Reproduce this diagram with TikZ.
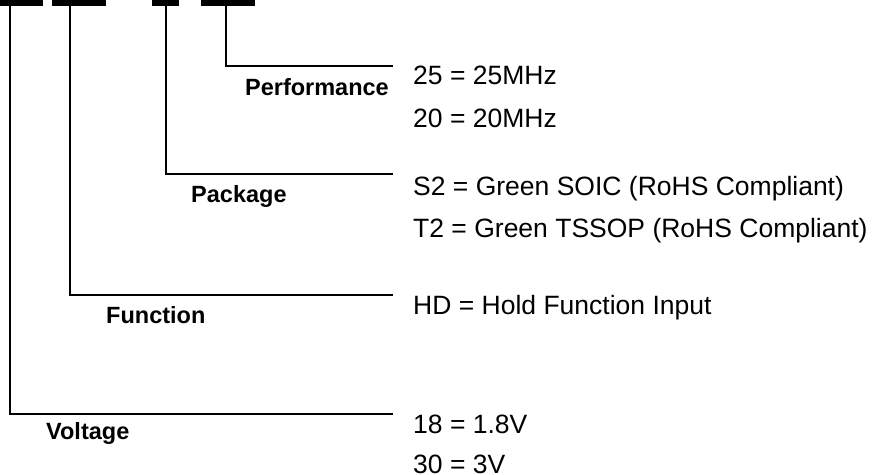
\documentclass[tikz,border=0pt]{standalone}
\usepackage{fontspec}
\setmainfont{Liberation Sans}
\begin{document}
\begin{tikzpicture}[x=1pt,y=-1pt,
  bar/.style={fill=black,draw=none,inner sep=0pt,minimum height=6pt,outer sep=0pt},
  conn/.style={line width=2.2pt},
  opt/.style={anchor=base west,inner sep=0pt,font=\fontsize{26.5}{31}\selectfont},
  lbl/.style={anchor=base west,inner sep=0pt,font=\fontsize{23.5}{28}\selectfont\bfseries}]
\useasboundingbox (0,0) rectangle (877,474);
% top bars
\node[bar,minimum width=43pt] (b1) at (21.5,3) {};
\node[bar,minimum width=54pt] (b2) at (79,3) {};
\node[bar,minimum width=27pt] (b3) at (165.5,3) {};
\node[bar,minimum width=54pt] (b4) at (228,3) {};
% line ends
\coordinate (e1) at (393,414);
\coordinate (e2) at (393,295);
\coordinate (e3) at (393,174);
\coordinate (e4) at (393,66);
\draw[conn] ([xshift=10pt]b1.south west) |- (e1);
\draw[conn] ([xshift=18pt]b2.south west) |- (e2);
\draw[conn] ([xshift=14pt]b3.south west) |- (e3);
\draw[conn] ([xshift=25pt]b4.south west) |- (e4);
% labels
\node[lbl,anchor=base east] (lperf) at (389,95) {Performance};
\node[lbl] (lpack) at (191,202) {Package};
\node[lbl] (lfunc) at (106,323) {Function};
\node[lbl] (lvolt) at (46,439) {Voltage};
% options
\node[opt] (o1) at (413,84) {25 = 25MHz};
\node[opt] (o2) at (413,127) {20 = 20MHz};
\node[opt] (o3) at (413,195) {S2 = Green SOIC (RoHS Compliant)};
\node[opt] (o4) at (413,237) {T2 = Green TSSOP (RoHS Compliant)};
\node[opt] (o5) at (413,314) {HD = Hold Function Input};
\node[opt] (o6) at (413,433) {18 = 1.8V};
\node[opt] (o7) at (413,473) {30 = 3V};
\end{tikzpicture}
\end{document}
